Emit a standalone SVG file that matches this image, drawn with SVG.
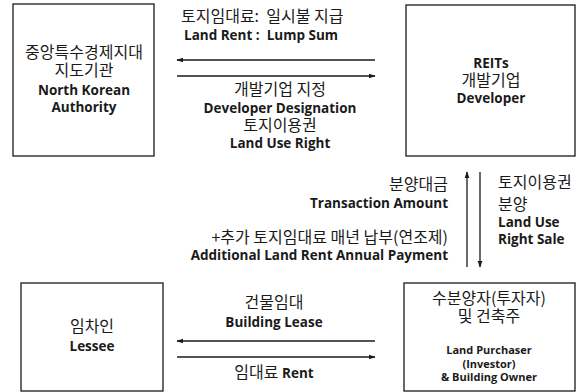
<svg xmlns="http://www.w3.org/2000/svg" width="577" height="392" viewBox="0 0 577 392">
<style>
text{font-family:"Open Sans","Noto Sans CJK KR",sans-serif;font-size:13.5px;fill:#1a1a1a}
.k{font-family:"Noto Sans CJK KR","Open Sans",sans-serif;font-weight:400;font-size:16px}
.e{font-weight:700}
.s{font-size:11px}
.c{text-anchor:middle}
.r{text-anchor:end}
.box{fill:#fff;stroke:#1a1a1a;stroke-width:1.3}
.ln{stroke:#1a1a1a;stroke-width:1.3;fill:none}
</style>
<defs>
<marker id="ah" viewBox="0 0 10 10" refX="9" refY="5" markerWidth="7" markerHeight="7" orient="auto-start-reverse" markerUnits="userSpaceOnUse">
<path d="M0,1.5 L10,5 L0,8.5 Z" fill="#1a1a1a"/>
</marker>
</defs>
<rect width="577" height="392" fill="#fff"/>
<g id="authority">
<rect class="box" x="13" y="4" width="141" height="152"/>
<text class="k c" x="84" y="58">중앙특수경제지대</text>
<text class="k c" x="84" y="76">지도기관</text>
<text class="e c" x="84" y="95">North Korean</text>
<text class="e c" x="84" y="112">Authority</text>
</g>
<g id="developer">
<rect class="box" x="406" y="5" width="169" height="151"/>
<text class="e c" x="491" y="68">REITs</text>
<text class="k c" x="491" y="86">개발기업</text>
<text class="e c" x="491" y="103">Developer</text>
</g>
<g id="lessee">
<rect class="box" x="21" y="283" width="142" height="108"/>
<text class="k c" x="92" y="332">임차인</text>
<text class="e c" x="92" y="351">Lessee</text>
</g>
<g id="purchaser">
<rect class="box" x="404" y="283" width="171" height="108"/>
<text class="k c" x="489" y="304">수분양자(투자자)</text>
<text class="k c" x="489" y="322">및 건축주</text>
<text class="e c s" x="489" y="354">Land Purchaser</text>
<text class="e c s" x="489" y="368">(Investor)</text>
<text class="e c s" x="489" y="381">&amp; Building Owner</text>
</g>
<g id="connectors">
<line class="ln" x1="375" y1="60" x2="177" y2="60" marker-end="url(#ah)"/>
<line class="ln" x1="177" y1="76" x2="375" y2="76" marker-end="url(#ah)"/>
<line class="ln" x1="467" y1="267" x2="467" y2="172" marker-end="url(#ah)"/>
<line class="ln" x1="480" y1="172" x2="480" y2="267" marker-end="url(#ah)"/>
<line class="ln" x1="375" y1="341" x2="177" y2="341" marker-end="url(#ah)"/>
<line class="ln" x1="177" y1="357" x2="375" y2="357" marker-end="url(#ah)"/>
</g>
<g id="labels">
<text class="k" x="181" y="22" xml:space="preserve">토지임대료:  일시불 지급</text>
<text class="e" x="184" y="40" xml:space="preserve">Land Rent :  Lump Sum</text>
<text class="k c" x="280" y="95">개발기업 지정</text>
<text class="e c" x="280" y="113">Developer Designation</text>
<text class="k c" x="280" y="131">토지이용권</text>
<text class="e c" x="280" y="148">Land Use Right</text>
<text class="k r" x="448" y="190">분양대금</text>
<text class="e r" x="448" y="208">Transaction Amount</text>
<text class="k r" x="448" y="243">+추가 토지임대료 매년 납부(연조제)</text>
<text class="e r" x="448" y="260">Additional Land Rent Annual Payment</text>
<text class="k" x="498" y="188">토지이용권</text>
<text class="k" x="498" y="210">분양</text>
<text class="e" x="498" y="227">Land Use</text>
<text class="e" x="498" y="244">Right Sale</text>
<text class="k c" x="274" y="308">건물임대</text>
<text class="e c" x="274" y="327">Building Lease</text>
<text class="c" x="274" y="378"><tspan class="k">임대료 </tspan><tspan class="e">Rent</tspan></text>
</g>
</svg>
